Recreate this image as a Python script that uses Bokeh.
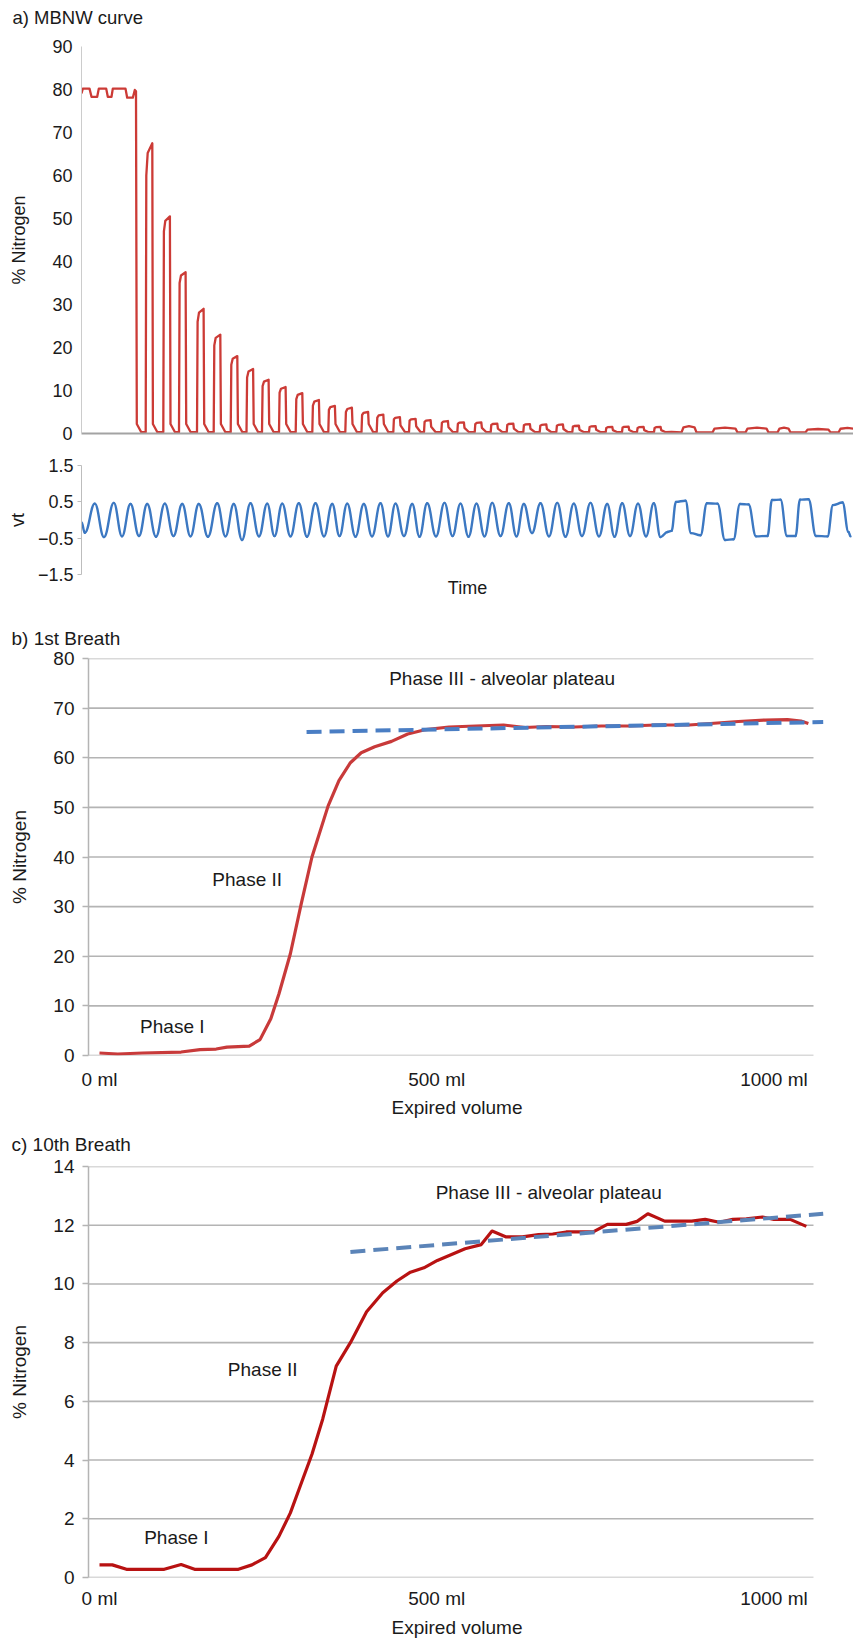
import numpy as np
from bokeh.plotting import figure
from bokeh.models import Range1d, FixedTicker, Title
from bokeh.core.properties import value
from bokeh.embed import file_html
from bokeh.resources import INLINE

FONT = "Liberation Sans"
TXT = "#1a1a1a"

# ---------------- data: panel a (MBNW curve) ----------------
# time in arbitrary sample units, N2 in %
pre_t = [0, 1.3, 8, 10, 15.7, 17.3, 24.7, 26.3, 30, 31.3, 44, 45.7, 51.3, 53.3, 54.5]
pre_n2 = [79.1, 80.2, 80.2, 78.3, 78.3, 80.2, 80.2, 78.3, 78.3, 80.2, 80.2, 78.1, 78.1, 79.9, 79.6]
washout_t = 55.0
n2_base = 0.3
n2_rise_t = [64.2, 81.8, 97.5, 115.5, 132.2, 149.2, 165.0, 180.5, 197.5, 214.2, 230.8, 246.8,
             263.8, 280.0, 295.2, 311.8, 327.5, 342.5, 359.8, 375.8, 393.2, 409.2, 425.2, 441.8,
             458.2, 474.8, 490.8, 507.5, 524.2, 540.5, 555.5, 572.5]
n2_fall_t = [71.4, 89.0, 104.7, 122.7, 139.4, 156.4, 172.2, 187.7, 204.7, 221.4, 238.0, 254.0,
             271.0, 287.2, 302.4, 319.0, 334.7, 349.7, 367.0, 383.0, 400.4, 416.4, 432.4, 449.0,
             465.4, 482.0, 498.0, 514.7, 531.4, 547.7, 562.7, 579.7]
n2_start = [60, 47, 35, 26, 20.5, 16, 13, 11, 9.5, 8, 6.5, 5.5, 5, 4.3, 3.7, 3.3, 3, 2.7, 2.5,
            2.3, 2.2, 2.0, 2.0, 1.9, 1.8, 1.8, 1.6, 1.5, 1.3, 1.4, 1.3, 1.3]
n2_peak = [67.5, 50.5, 37.5, 29, 23, 18, 15, 12.5, 10.8, 9.4, 7.8, 6.4, 6.0, 5.0, 4.4, 3.8, 3.4,
           3.1, 2.9, 2.6, 2.6, 2.3, 2.3, 2.2, 2.1, 2.1, 1.8, 1.7, 1.55, 1.6, 1.55, 1.55]
wide_rise_t = [600, 631, 664, 696, 724, 757]
wide_fall_t = [615, 656, 687, 709, 749, 775]
wide_peak = [1.7, 1.35, 1.35, 1.35, 1.05, 1.3]
a_y_ticks = [0, 10, 20, 30, 40, 50, 60, 70, 80, 90]

# tidal volume trace
vt_start_t = [0, 3.3]
vt_start_v = [-0.06, -0.35]
vt_peak_t = [13.3, 32.3, 49, 65.7, 83.3, 100.7, 117.3, 135.7, 152.3, 169, 185.7, 200.7, 217.3,
             234, 250.7, 265.7, 282.3, 299, 314, 330.7, 345.7, 363, 379, 395, 410.7, 427.3,
             442.3, 459, 475.7, 492.3, 509, 525.7, 540.7, 556.5, 572.3]
vt_peak_v = [0.45, 0.47, 0.44, 0.44, 0.45, 0.44, 0.44, 0.46, 0.44, 0.46, 0.45, 0.45, 0.46, 0.46,
             0.44, 0.45, 0.44, 0.46, 0.45, 0.44, 0.46, 0.47, 0.45, 0.45, 0.47, 0.46, 0.44, 0.46,
             0.47, 0.45, 0.47, 0.44, 0.46, 0.45, 0.46]
vt_trough_t = [22.5, 40.5, 57.5, 74.5, 92, 109, 126.5, 144, 160.5, 177.5, 193, 209, 225.5, 242.5,
               258, 274, 290.5, 306.5, 322.5, 338, 354.5, 371, 387, 403, 419, 435, 450.5, 467.5,
               484, 500.5, 517.5, 533, 548.5, 564.5, 579]
vt_trough_v = [-0.47, -0.45, -0.44, -0.46, -0.44, -0.45, -0.46, -0.45, -0.55, -0.45, -0.44, -0.45,
               -0.46, -0.45, -0.44, -0.46, -0.45, -0.45, -0.44, -0.46, -0.45, -0.44, -0.46, -0.45,
               -0.44, -0.45, -0.36, -0.45, -0.46, -0.44, -0.45, -0.46, -0.44, -0.45, -0.47]
vt_wide_t = [586, 590, 594.5, 604, 609.5, 619, 625.5, 636, 643.5, 652, 658.5, 667, 674.5, 686,
             690.5, 699, 705.5, 714, 718.5, 727, 734.5, 746, 751.5, 761, 767, 769]
vt_wide_v = [-0.33, -0.3, 0.5, 0.53, -0.36, -0.42, 0.46, 0.45, -0.55, -0.53, 0.44, 0.43, -0.45,
             -0.44, 0.55, 0.56, -0.44, -0.44, 0.56, 0.57, -0.44, -0.45, 0.41, 0.48, -0.33, -0.45]
vt_ticks = [-1.5, -0.5, 0.5, 1.5]
vt_tick_labels = ["\u22121.5", "\u22120.5", "0.5", "1.5"]

# ---------------- data: panel b (1st breath) ----------------
b_ml = [0, 27, 64, 121, 149, 173, 189, 222, 238, 254, 266, 283, 299, 315, 339, 355, 372, 388,
        408, 433, 457, 481, 518, 558, 599, 631, 663, 704, 744, 785, 825, 874, 906, 947, 987,
        1020, 1040, 1051]
b_n2 = [0.5, 0.3, 0.5, 0.7, 1.2, 1.3, 1.7, 1.9, 3.2, 7.4, 12.4, 20.5, 30.5, 40.0, 50.3, 55.4,
        59.0, 61.0, 62.2, 63.3, 64.8, 65.6, 66.2, 66.4, 66.6, 66.1, 66.3, 66.2, 66.4, 66.4, 66.6,
        66.6, 66.9, 67.3, 67.6, 67.7, 67.4, 66.9]
b_fit_ml = [307, 1073]
b_fit_n2 = [65.2, 67.2]
b_y_ticks = [0, 10, 20, 30, 40, 50, 60, 70, 80]

# ---------------- data: panel c (10th breath) ----------------
c_ml = [0, 19, 40, 96, 121, 141, 206, 226, 246, 266, 283, 299, 315, 331, 351, 372, 396, 420,
        441, 461, 481, 501, 522, 542, 566, 582, 603, 627, 651, 672, 692, 732, 753, 781, 797,
        813, 838, 878, 898, 919, 939, 959, 983, 1000, 1024, 1048]
c_n2 = [0.43, 0.43, 0.28, 0.28, 0.44, 0.28, 0.28, 0.43, 0.68, 1.4, 2.2, 3.2, 4.2, 5.4, 7.2, 8.0,
        9.05, 9.7, 10.1, 10.4, 10.55, 10.8, 11.0, 11.2, 11.34, 11.8, 11.6, 11.6, 11.68, 11.7,
        11.77, 11.77, 12.03, 12.03, 12.13, 12.39, 12.14, 12.14, 12.2, 12.1, 12.2, 12.22, 12.28,
        12.2, 12.2, 11.96]
c_fit_ml = [372, 1073]
c_fit_n2 = [11.09, 12.39]
c_y_ticks = [0, 2, 4, 6, 8, 10, 12, 14]

vol_ticks = [0, 500, 1000]
vol_labels = ["0 ml", "500 ml", "1000 ml"]
phase_texts = ["Phase III - alveolar plateau", "Phase II", "Phase I"]
b_phase_x = [597, 219, 108]
b_phase_y = [76.0, 35.5, 5.8]
c_phase_x = [666, 242, 114]
c_phase_y = [13.1, 7.07, 1.36]

# ---------------- helpers ----------------
GRID = "#b4b4b4"
W = 853


def make_fig(height, left, right, top, bottom, xr, yr):
    p = figure(width=W, height=height, x_range=Range1d(*xr), y_range=Range1d(*yr),
               output_backend="svg", toolbar_location=None,
               min_border_left=left, min_border_right=right,
               min_border_top=top, min_border_bottom=bottom)
    p.outline_line_color = None
    p.grid.visible = False
    p.background_fill_color = "white"
    p.border_fill_color = "white"
    return p


def style_title(t, text, align, offset, standoff, size):
    t.text = text
    t.align = align
    t.offset = offset
    t.standoff = standoff
    t.text_font = FONT
    t.text_font_size = size
    t.text_font_style = "normal"
    t.text_color = TXT


def style_yaxis(ax, ticks, line_color, line_width, tick_out, standoff, size, label, label_standoff,
                overrides=None):
    ax.ticker = FixedTicker(ticks=ticks)
    if overrides:
        ax.major_label_overrides = overrides
    ax.axis_line_color = line_color
    ax.axis_line_width = line_width
    ax.major_tick_line_color = line_color if tick_out > 0 else None
    ax.major_tick_line_width = line_width
    ax.major_tick_out = tick_out
    ax.major_tick_in = 0
    ax.minor_tick_line_color = None
    ax.minor_tick_out = 0
    ax.major_label_standoff = standoff
    ax.major_label_text_font = FONT
    ax.major_label_text_font_size = size
    ax.major_label_text_color = TXT
    ax.axis_label = label
    ax.axis_label_text_font = FONT
    ax.axis_label_text_font_size = size
    ax.axis_label_text_font_style = "normal"
    ax.axis_label_text_color = TXT
    ax.axis_label_standoff = label_standoff


# ---------------- panel a: heading strip ----------------
p0 = figure(width=W, height=30, x_range=Range1d(0, W), y_range=Range1d(0, 30),
            output_backend="svg", toolbar_location=None, min_border=0)
p0.axis.visible = False
p0.grid.visible = False
p0.outline_line_color = None
p0.text(x=[12], y=[13], text=["a) MBNW curve"], text_align="left", text_baseline="middle",
        text_font=value(FONT), text_font_size="18.5px", text_color=TXT)

# ---------------- panel a: N2 trace ----------------
p1 = make_fig(415, 81, 0, 16, 12, (0, 772), (0, 90))
style_yaxis(p1.yaxis[0], a_y_ticks, "#cccccc", 1, 0, 9, "18px", "% Nitrogen", 20)
xa = p1.xaxis[0]
xa.ticker = FixedTicker(ticks=[])
xa.axis_line_color = "#a3a3a3"
xa.axis_line_width = 2
xa.major_tick_line_color = None
xa.minor_tick_line_color = None
xa.major_tick_out = 0
xa.minor_tick_out = 0
xa.major_label_text_font_size = "0px"

n2_t = list(pre_t) + [washout_t + 0.3, washout_t + 4.8]
n2_v = list(pre_n2) + [2.2, n2_base]
for r, f, s, pk in zip(n2_rise_t, n2_fall_t, n2_start, n2_peak):
    n2_t += [r, r + 0.6, r + 2.0, f - 0.6, f, f + 4.5]
    n2_v += [n2_base, s, s + 0.7 * (pk - s), pk, min(2.2, 0.5 * pk), n2_base]
n2_t += [590]
n2_v += [0.4]
for r, f, pk in zip(wide_rise_t, wide_fall_t, wide_peak):
    n2_t += [r, r + 2, (r + f) / 2, f - 2, f]
    n2_v += [0.25, 0.85 * pk, pk, 0.85 * pk, 0.25]
p1.line(n2_t, n2_v, line_color="#cc3b36", line_width=2.3, line_join="round")

# ---------------- panel a: tidal volume ----------------
p2 = make_fig(160, 81, 0, 20, 31, (0, 772), (-1.5, 1.5))
style_yaxis(p2.yaxis[0], vt_ticks, "#bdbdbd", 1, 4, 4, "18px", "vt", 7,
            overrides={t: l for t, l in zip(vt_ticks, vt_tick_labels)})
p2.xaxis.visible = False
tt = Title()
style_title(tt, "Time", "center", -16, 3, "18px")
p2.add_layout(tt, "below")

kt = list(vt_start_t)
kv = list(vt_start_v)
for pt, pv, qt, qv in zip(vt_peak_t, vt_peak_v, vt_trough_t, vt_trough_v):
    kt += [pt, qt]
    kv += [pv, qv]
kt += vt_wide_t
kv += vt_wide_v
kt = np.array(kt, dtype=float)
kv = np.array(kv, dtype=float)
x0, x1, y0, y1 = kt[:-1], kt[1:], kv[:-1], kv[1:]
dx = x1 - x0
p2.bezier(x0=x0, y0=y0, x1=x1, y1=y1, cx0=x0 + 0.42 * dx, cy0=y0, cx1=x1 - 0.42 * dx, cy1=y1,
          line_color="#3c78c2", line_width=2.4, line_cap="round")


# ---------------- panels b and c ----------------
def breath_panel(height, top, bottom, yr, yticks, title, ml, n2, fit_ml, fit_n2, phase_x, phase_y,
                 red, blue, title_standoff, tick_standoff, xlab_standoff):
    xr = (-16.3, 1076.4)
    p = make_fig(height, 88, 28, top, bottom, xr, yr)
    style_title(p.title, title, "left", -77, title_standoff, "19px")
    style_yaxis(p.yaxis[0], yticks, GRID, 1.5, 6, 8, "19px", "% Nitrogen", 20)
    xa = p.xaxis[0]
    xa.ticker = FixedTicker(ticks=vol_ticks)
    xa.major_label_overrides = {t: l for t, l in zip(vol_ticks, vol_labels)}
    xa.axis_line_color = None
    xa.major_tick_line_color = None
    xa.minor_tick_line_color = None
    xa.major_tick_out = 0
    xa.minor_tick_out = 0
    xa.major_label_standoff = tick_standoff
    xa.major_label_text_font = FONT
    xa.major_label_text_font_size = "19px"
    xa.major_label_text_color = TXT
    xt = Title()
    style_title(xt, "Expired volume", "center", -12, xlab_standoff, "19px")
    p.add_layout(xt, "below")
    n = len(yticks)
    p.segment(x0=[xr[0]] * n, x1=[1058.6] * n, y0=yticks, y1=yticks,
              line_color=GRID, line_width=1.6)
    p.line(ml, n2, line_color=red, line_width=3.2, line_join="round")
    p.line(fit_ml, fit_n2, line_color=blue, line_width=4, line_dash="15 8")
    p.text(x=phase_x, y=phase_y, text=phase_texts, text_align="center",
           text_baseline="middle", text_font=value(FONT), text_font_size="19px",
           text_color=TXT)
    return p


p3 = breath_panel(515, 53, 65, (0, 80), b_y_ticks, "b) 1st Breath", b_ml, b_n2, b_fit_ml,
                  b_fit_n2, b_phase_x, b_phase_y, "#c83a3a", "#4a7ec4", 20, 13, 5)
p4 = breath_panel(520, 46, 62, (0, 14), c_y_ticks, "c) 10th Breath", c_ml, c_n2, c_fit_ml,
                  c_fit_n2, c_phase_x, c_phase_y, "#b81212", "#5b84b8", 23, 10, 6)

open("out.html", "w").write(file_html([p0, p1, p2, p3, p4], INLINE))
